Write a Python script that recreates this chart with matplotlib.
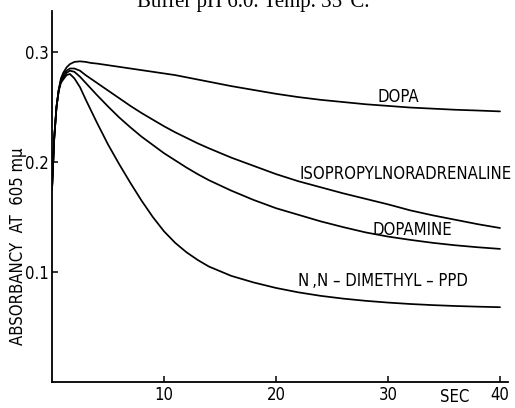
import matplotlib
matplotlib.use("Agg")
import matplotlib.pyplot as plt
from matplotlib import font_manager as fm

# ---- data ----
t = [0, 0.2, 0.4, 0.6, 0.8, 1.0, 1.3, 1.6, 2.0, 2.5, 3, 3.5, 4, 5, 6, 7, 8, 9, 10, 11, 12, 13,
     14, 16, 18, 20, 22, 24, 26, 28, 30, 32, 34, 36, 38, 40]
dopa = [0.175, 0.222, 0.250, 0.266, 0.276, 0.281, 0.286, 0.289, 0.291, 0.2915, 0.291, 0.290,
        0.2895, 0.288, 0.2865, 0.285, 0.2835, 0.282, 0.2805, 0.279, 0.277, 0.275,
        0.273, 0.269, 0.2655, 0.262, 0.259, 0.2565, 0.2545, 0.2525, 0.251, 0.2495, 0.2485,
        0.2475, 0.2468, 0.246]
isoprop = [0.175, 0.222, 0.250, 0.265, 0.274, 0.279, 0.283, 0.285, 0.285, 0.283, 0.279, 0.2755,
           0.272, 0.265, 0.258, 0.251, 0.2445, 0.2385, 0.2325, 0.227, 0.222, 0.217,
           0.2125, 0.204, 0.1965, 0.189, 0.1825, 0.177, 0.1715, 0.1665, 0.1615, 0.156, 0.1515,
           0.1475, 0.1435, 0.140]
dopamine = [0.175, 0.222, 0.250, 0.265, 0.274, 0.277, 0.281, 0.283, 0.282, 0.2775, 0.272, 0.2665,
            0.261, 0.2505, 0.2405, 0.2315, 0.223, 0.2155, 0.208, 0.2015, 0.195, 0.189,
            0.1835, 0.174, 0.1655, 0.158, 0.152, 0.146, 0.1408, 0.136, 0.1322, 0.1292, 0.1265,
            0.1243, 0.1225, 0.121]
nn_dmppd = [0.175, 0.222, 0.250, 0.265, 0.272, 0.275, 0.279, 0.280, 0.276, 0.268, 0.257, 0.2465,
            0.236, 0.216, 0.198, 0.181, 0.1648, 0.150, 0.137, 0.1265, 0.118, 0.111,
            0.105, 0.0965, 0.0905, 0.0855, 0.0815, 0.0783, 0.0758, 0.0738, 0.0722, 0.0709, 0.0699,
            0.0691, 0.0685, 0.068]

series_names = ["DOPA", "ISOPROPYLNORADRENALINE", "DOPAMINE", "N\u2009,N \u2013 DIMETHYL \u2013 PPD"]
label_pos = [(29.1, 0.2595), (22.1, 0.189), (28.6, 0.1386), (22.0, 0.0914)]
xticks = [10, 20, 30, 40]
yticks = [0.1, 0.2, 0.3]
ytick_labels = ["0.1", "0.2", "0.3"]
title = "Buffer pH 6.0. Temp. 35\u00b0C."
ylabel = "ABSORBANCY  AT  605 m\u03bc"
xlabel = "SEC"

# ---- font ----
names = {f.name for f in fm.fontManager.ttflist}
if "Liberation Sans Narrow" in names:
    fam = ["Liberation Sans Narrow", "DejaVu Sans"]
    stretch = "normal"
else:
    fam = ["DejaVu Sans"]
    stretch = "condensed"
lab_kw = dict(family=fam, fontstretch=stretch, color="black")
FS = 12

W, H = 515, 408
fig = plt.figure(figsize=(W / 100, H / 100), dpi=100)
ax = fig.add_axes([52 / W, (H - 382) / H, (508 - 52) / W, (382 - 11) / H])

for ys in (dopa, isoprop, dopamine, nn_dmppd):
    ax.plot(t, ys, color="black", lw=1.25, solid_joinstyle="round", solid_capstyle="round")

for name, (x, y) in zip(series_names, label_pos):
    ax.text(x, y, name, ha="left", va="center", fontsize=FS, **lab_kw)

ax.set_xlim(0, (508 - 52) / 11.2)
ax.set_ylim(0, (382 - 11) / 1100)
for s in ("top", "right"):
    ax.spines[s].set_visible(False)
for s in ("left", "bottom"):
    ax.spines[s].set_linewidth(1.3)
ax.set_xticks(xticks)
ax.set_xticklabels([str(v) for v in xticks], fontsize=FS, **lab_kw)
ax.set_yticks(yticks)
ax.set_yticklabels(ytick_labels, fontsize=FS, **lab_kw)
ax.tick_params(direction="in", length=4, width=1.1)
ax.tick_params(axis="x", pad=3)
ax.tick_params(axis="y", pad=2)

fig.text(455 / W, (H - 397) / H, xlabel, ha="center", va="center", fontsize=FS, **lab_kw)
fig.text(18.5 / W, 1 - 246.5 / H, ylabel, rotation=90, ha="center", va="center",
         fontsize=FS, **lab_kw)
fig.text(253 / W, 1 - 7 / H, title, ha="center", va="baseline", fontsize=15,
         family=["Liberation Serif", "DejaVu Serif"])

fig.savefig("out.png", dpi=100)
